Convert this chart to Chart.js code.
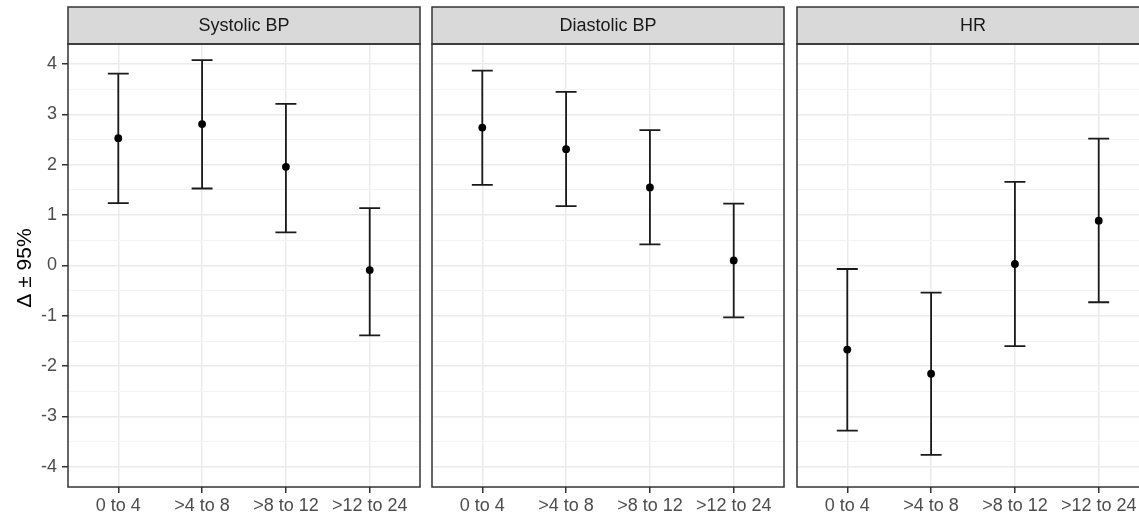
<!DOCTYPE html>
<html>
<head>
<meta charset="utf-8">
<title>Change by time window</title>
<script src="https://cdn.jsdelivr.net/npm/chart.js@4"></script>
<style>
  html, body { margin: 0; padding: 0; background: #fff; overflow: hidden; }
  body { width: 1139px; height: 519px; position: relative; }
  canvas { position: absolute; top: 0; }
</style>
</head>
<body>
<canvas id="sbp" width="426" height="519" style="left:0px"></canvas>
<canvas id="dbp" width="364" height="519" style="left:426px"></canvas>
<canvas id="hr" width="364" height="519" style="left:791px"></canvas>
<script>
const categories = ["0 to 4", ">4 to 8", ">8 to 12", ">12 to 24"];
const yTicks = [-4, -3, -2, -1, 0, 1, 2, 3, 4];

const sbpMean = [2.53, 2.81, 1.96, -0.09];
const sbpLow  = [1.24, 1.53, 0.66, -1.39];
const sbpHigh = [3.81, 4.08, 3.21, 1.14];

const dbpMean = [2.74, 2.31, 1.55, 0.10];
const dbpLow  = [1.60, 1.18, 0.42, -1.03];
const dbpHigh = [3.87, 3.45, 2.69, 1.23];

const hrMean = [-1.67, -2.15, 0.03, 0.89];
const hrLow  = [-3.28, -3.76, -1.60, -0.73];
const hrHigh = [-0.07, -0.54, 1.66, 2.52];

const FONT = "'Liberation Sans', Arial, sans-serif";
const Y_AXIS_W = 68, STRIP_TOP = 7, X_AXIS_H = 32, SIDE_PAD = 6;

// minor grid lines sit halfway between the labelled ticks
const yMinor = yTicks.slice(1).map((v, i) => (v + yTicks[i]) / 2);
const yAll = yTicks.concat(yMinor).sort((a, b) => a - b);

const errorBars = {
  id: 'errorBars',
  beforeDatasetsDraw(chart, args, opts) {
    const { ctx, scales: { x, y } } = chart;
    ctx.save();
    ctx.strokeStyle = '#1a1a1a';
    ctx.lineWidth = 1.8;
    opts.low.forEach((lo, i) => {
      const px = x.getPixelForValue(i);
      const half = (x.getPixelForValue(0.125) - x.getPixelForValue(0));
      const yLo = y.getPixelForValue(lo), yHi = y.getPixelForValue(opts.high[i]);
      ctx.beginPath();
      ctx.moveTo(px, yLo); ctx.lineTo(px, yHi);
      ctx.moveTo(px - half, yLo); ctx.lineTo(px + half, yLo);
      ctx.moveTo(px - half, yHi); ctx.lineTo(px + half, yHi);
      ctx.stroke();
    });
    ctx.restore();
  }
};

// facet strip on top and the dark panel frame
const panelFrame = {
  id: 'panelFrame',
  afterDraw(chart, args, opts) {
    const { ctx, chartArea: a } = chart;
    ctx.save();
    ctx.fillStyle = '#d9d9d9';
    ctx.fillRect(a.left, STRIP_TOP, a.right - a.left, a.top - STRIP_TOP);
    ctx.strokeStyle = '#333333';
    ctx.lineWidth = 1.5;
    ctx.strokeRect(a.left, STRIP_TOP, a.right - a.left, a.top - STRIP_TOP);
    ctx.strokeRect(a.left, a.top, a.right - a.left, a.bottom - a.top);
    ctx.fillStyle = '#1a1a1a';
    ctx.font = '18px ' + FONT;
    ctx.textAlign = 'center';
    ctx.textBaseline = 'middle';
    ctx.fillText(opts.label, (a.left + a.right) / 2, (STRIP_TOP + a.top) / 2 + 1);
    if (opts.yTitle) {
      ctx.translate(25.5, 268);
      ctx.rotate(-Math.PI / 2);
      ctx.fillStyle = '#000';
      ctx.font = '21px ' + FONT;
      ctx.fillText(opts.yTitle, 0, 0);
    }
    ctx.restore();
  }
};

function makePanel(id, label, mean, low, high, showY) {
  new Chart(document.getElementById(id), {
    type: 'scatter',
    data: {
      datasets: [{
        data: mean.map((v, i) => ({ x: i, y: v })),
        backgroundColor: '#000',
        borderWidth: 0,
        pointRadius: 3.9
      }]
    },
    options: {
      responsive: false,
      animation: false,
      events: [],
      layout: { padding: { top: 44, left: showY ? 0 : SIDE_PAD, right: SIDE_PAD, bottom: 0 } },
      plugins: {
        legend: { display: false },
        tooltip: { enabled: false },
        errorBars: { low, high },
        panelFrame: { label, yTitle: showY ? 'Δ ± 95%' : null }
      },
      scales: {
        x: {
          type: 'linear',
          min: -0.6,
          max: 3.6,
          afterBuildTicks: s => { s.ticks = categories.map((c, i) => ({ value: i })); },
          afterFit: s => { s.height = X_AXIS_H; },
          border: { display: false },
          grid: { color: '#ebebeb', lineWidth: 1.5, tickColor: '#333', tickLength: 6, tickWidth: 1.5 },
          ticks: {
            autoSkip: false,
            maxRotation: 0,
            padding: 2,
            color: '#4d4d4d',
            font: { family: FONT, size: 18 },
            callback: v => categories[v]
          }
        },
        y: {
          min: -4.4,
          max: 4.4,
          afterBuildTicks: s => { s.ticks = yAll.map(v => ({ value: v })); },
          afterFit: s => { s.width = showY ? Y_AXIS_W : 0; },
          border: { display: false },
          grid: {
            drawTicks: showY,
            tickLength: 6,
            tickWidth: 1.5,
            color: c => Number.isInteger(c.tick.value) ? '#ebebeb' : '#f3f3f3',
            lineWidth: c => Number.isInteger(c.tick.value) ? 1.5 : 1,
            tickColor: c => Number.isInteger(c.tick.value) ? '#333' : 'rgba(0,0,0,0)'
          },
          ticks: {
            display: showY,
            autoSkip: false,
            padding: 5,
            color: '#4d4d4d',
            font: { family: FONT, size: 18 },
            callback: v => Number.isInteger(v) ? String(v) : ''
          }
        }
      }
    },
    plugins: [errorBars, panelFrame]
  });
}

makePanel('sbp', 'Systolic BP', sbpMean, sbpLow, sbpHigh, true);
makePanel('dbp', 'Diastolic BP', dbpMean, dbpLow, dbpHigh, false);
makePanel('hr', 'HR', hrMean, hrLow, hrHigh, false);
</script>
</body>
</html>
